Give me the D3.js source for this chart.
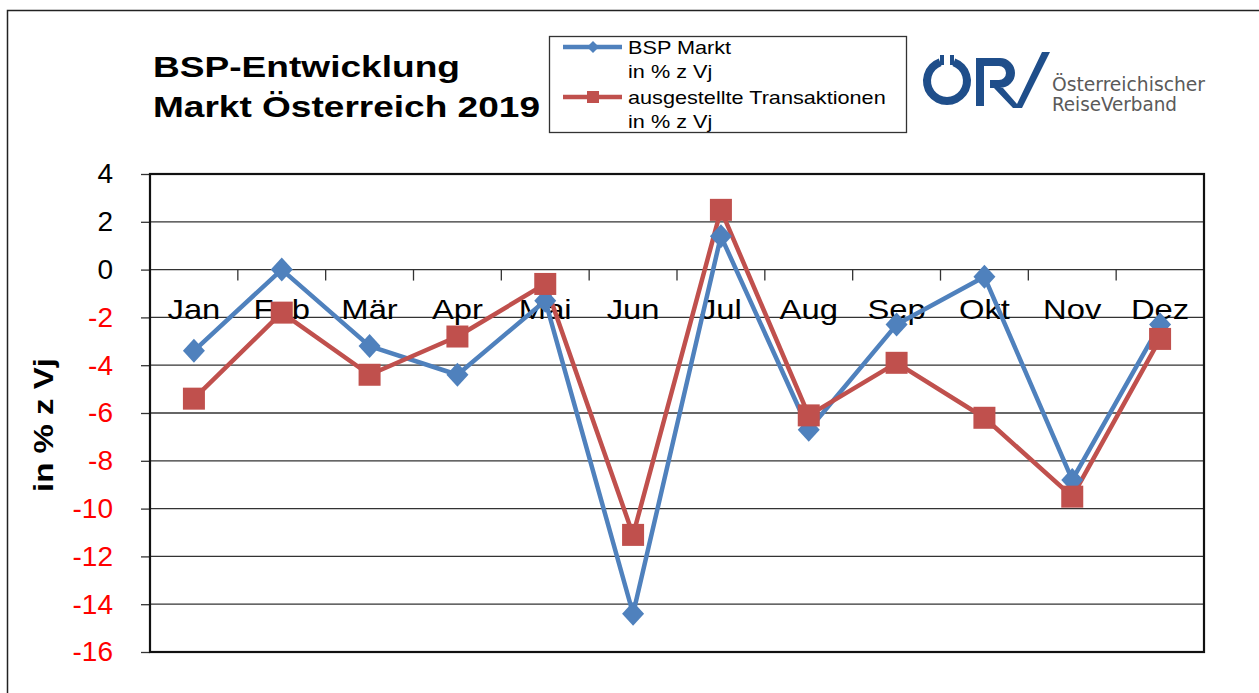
<html>
<head>
  <meta charset="utf-8">
  <title>BSP-Entwicklung</title>
  <script src="https://d3js.org/d3.v7.min.js"></script>
  <style>
    body { margin: 0; background: #fff; }
    text { font-family: "Liberation Sans", Arial, sans-serif; }
  </style>
</head>
<body>
<svg id="chart" width="1259" height="693"></svg>
<script>
// data
var months = ["Jan","Feb","Mär","Apr","Mai","Jun","Jul","Aug","Sep","Okt","Nov","Dez"];
var bspMarkt = [-3.4, 0.0, -3.2, -4.4, -1.3, -14.4, 1.4, -6.7, -2.3, -0.3, -8.8, -2.3];
var transaktionen = [-5.4, -1.8, -4.4, -2.8, -0.6, -11.1, 2.5, -6.1, -3.9, -6.2, -9.5, -2.9];
var yTicks = [4, 2, 0, -2, -4, -6, -8, -10, -12, -14, -16];

var blue = "#4f81bd", red = "#c0504d";

var svg = d3.select("#chart");

// the source picture is a bit wider than tall, so stretch text sideways
function stretch(sel, k) {
  sel.each(function() {
    var w = this.getComputedTextLength();
    d3.select(this).attr("textLength", w * k).attr("lengthAdjust", "spacingAndGlyphs");
  });
}

// outer frame
svg.append("rect")
  .attr("x", 7.5).attr("y", 10.5)
  .attr("width", 1270).attr("height", 700)
  .attr("fill", "none").attr("stroke", "#222").attr("stroke-width", 1.5);

var plotL = 150, plotR = 1204, plotT = 174, plotB = 652;

var x = d3.scaleBand().domain(months).range([plotL, plotR]);
var y = d3.scaleLinear().domain([-16, 4]).range([plotB, plotT]);

// horizontal grid lines
svg.append("g").selectAll("line")
  .data(yTicks)
  .enter().append("line")
    .attr("x1", plotL).attr("x2", plotR)
    .attr("y1", function(d) { return y(d); })
    .attr("y2", function(d) { return y(d); })
    .attr("stroke", "#333").attr("stroke-width", 1.3);

// y axis ticks + labels (plain hyphen as minus, like the original)
var yAxis = svg.append("g")
  .attr("transform", "translate(" + plotL + ",0)")
  .call(d3.axisLeft(y).tickValues(yTicks).tickSize(9).tickPadding(28)
    .tickFormat(function(d) { return String(d); }));
yAxis.select(".domain").remove();
yAxis.selectAll(".tick line").attr("stroke", "#333").attr("stroke-width", 1.3);
yAxis.selectAll(".tick text")
  .style("font-size", "28px")
  .style("font-family", "'Liberation Sans', Arial, sans-serif")
  .attr("fill", function(d) { return d < 0 ? "#ff0000" : "#000"; });

// y axis title
var yt = svg.append("text")
  .attr("transform", "translate(53,425) rotate(-90)")
  .style("text-anchor", "middle")
  .style("font-size", "28px")
  .style("font-weight", "bold")
  .text("in % z Vj");
stretch(yt, 1.18);

// category labels (sit under the lines)
var cats = svg.append("g").selectAll("text")
  .data(months)
  .enter().append("text")
    .attr("x", function(d) { return x(d) + x.bandwidth() / 2; })
    .attr("y", 319)
    .style("text-anchor", "middle")
    .style("font-size", "28px")
    .text(function(d) { return d; });
stretch(cats, 1.17);

// category tick marks on the zero line
svg.append("g").selectAll("line")
  .data(months.slice(1))
  .enter().append("line")
    .attr("x1", function(d) { return x(d); })
    .attr("x2", function(d) { return x(d); })
    .attr("y1", y(0)).attr("y2", y(0) + 11)
    .attr("stroke", "#333").attr("stroke-width", 1.3);

// plot frame
svg.append("rect")
  .attr("x", plotL).attr("y", plotT)
  .attr("width", plotR - plotL).attr("height", plotB - plotT)
  .attr("fill", "none").attr("stroke", "#111").attr("stroke-width", 2.2);

function cx(i) { return x(months[i]) + x.bandwidth() / 2; }

var line = d3.line()
  .x(function(d, i) { return cx(i); })
  .y(function(d) { return y(d); });

// series lines
svg.append("path").datum(bspMarkt)
  .attr("d", line).attr("fill", "none")
  .attr("stroke", blue).attr("stroke-width", 4.5).attr("stroke-linejoin", "round");
svg.append("path").datum(transaktionen)
  .attr("d", line).attr("fill", "none")
  .attr("stroke", red).attr("stroke-width", 4.5).attr("stroke-linejoin", "round");

// markers
svg.append("g").selectAll("path")
  .data(bspMarkt)
  .enter().append("path")
    .attr("d", "M0,-12L11,0L0,12L-11,0Z")
    .attr("transform", function(d, i) { return "translate(" + cx(i) + "," + y(d) + ")"; })
    .attr("fill", blue);
svg.append("g").selectAll("rect")
  .data(transaktionen)
  .enter().append("rect")
    .attr("x", function(d, i) { return cx(i) - 11; })
    .attr("y", function(d) { return y(d) - 11; })
    .attr("width", 22).attr("height", 22)
    .attr("fill", red);

// title
var t1 = svg.append("text").attr("x", 153).attr("y", 77)
  .style("font-size", "30px").style("font-weight", "bold")
  .text("BSP-Entwicklung");
var t2 = svg.append("text").attr("x", 153).attr("y", 117)
  .style("font-size", "30px").style("font-weight", "bold")
  .text("Markt Österreich 2019");
t1.attr("textLength", 307).attr("lengthAdjust", "spacingAndGlyphs");
t2.attr("textLength", 387).attr("lengthAdjust", "spacingAndGlyphs");

// legend
var lg = svg.append("g");
lg.append("rect").attr("x", 549.5).attr("y", 36.5).attr("width", 357).attr("height", 96)
  .attr("fill", "#fff").attr("stroke", "#333").attr("stroke-width", 1.3);
lg.append("line").attr("x1", 563).attr("x2", 622).attr("y1", 47).attr("y2", 47)
  .attr("stroke", blue).attr("stroke-width", 4.5);
lg.append("path").attr("d", "M593,41L599,47L593,53L587,47Z").attr("fill", blue);
lg.append("line").attr("x1", 563).attr("x2", 622).attr("y1", 97).attr("y2", 97)
  .attr("stroke", red).attr("stroke-width", 4.5);
lg.append("rect").attr("x", 587).attr("y", 91).attr("width", 12).attr("height", 12).attr("fill", red);
var legendLines = [["BSP Markt", 54], ["in % z Vj", 78], ["ausgestellte Transaktionen", 104], ["in % z Vj", 128]];
var lt = lg.selectAll("text.lt").data(legendLines).enter().append("text")
  .attr("x", 628).attr("y", function(d) { return d[1]; })
  .style("font-size", "19px")
  .text(function(d) { return d[0]; });
stretch(lt, 1.14);

// logo
var logo = svg.append("g");
var navy = "#1f4e8a";
logo.append("path")
  .attr("d", d3.arc().innerRadius(16).outerRadius(24).startAngle(0.35).endAngle(2 * Math.PI - 0.35)())
  .attr("transform", "translate(947,81)").attr("fill", navy);
logo.append("rect").attr("x", 940).attr("y", 55).attr("width", 4).attr("height", 10).attr("fill", navy);
logo.append("rect").attr("x", 950).attr("y", 55).attr("width", 4).attr("height", 10).attr("fill", navy);
logo.append("path")
  .attr("d", "M976,58 L1000,58 A15,15 0 0 1 1000,88 L990,88 L990,80 L999,80 A7,7 0 0 0 999,66 L984,66 L984,106 L976,106 Z")
  .attr("fill", navy);
logo.append("path")
  .attr("d", "M994,88 L1003,88 L1017,104 L1042,52 L1050,52 L1022,108 L1013,108 Z")
  .attr("fill", navy);
logo.append("text").attr("x", 1052).attr("y", 91)
  .style("font-size", "19px").style("font-family", "'DejaVu Sans Condensed', 'Liberation Sans Narrow', sans-serif")
  .attr("fill", "#5a5a5a").attr("textLength", 153).attr("lengthAdjust", "spacingAndGlyphs")
  .text("Österreichischer");
logo.append("text").attr("x", 1052).attr("y", 111)
  .style("font-size", "19px").style("font-family", "'DejaVu Sans Condensed', 'Liberation Sans Narrow', sans-serif")
  .attr("fill", "#5a5a5a").attr("textLength", 125).attr("lengthAdjust", "spacingAndGlyphs")
  .text("ReiseVerband");
</script>
</body>
</html>
